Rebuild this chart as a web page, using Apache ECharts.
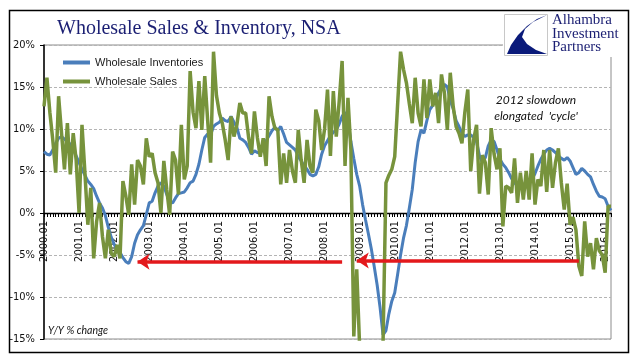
<!DOCTYPE html>
<html><head><meta charset="utf-8">
<script src="https://cdn.jsdelivr.net/npm/echarts@6/dist/echarts.min.js"></script>
<style>html,body{margin:0;padding:0;background:#fff}#c{width:641px;height:358px}</style>
</head><body><div id="c"></div>
<script>
// Y/Y % change, monthly 2000.01 - 2016.03
const inventories = [
7.3,7.0,6.9,7.5,8.3,8.9,9.1,8.8,8.5,8.2,7.6,6.8,
6.0,5.2,4.5,3.8,3.4,2.9,2.0,1.2,0.6,-0.3,-1.7,-2.9,
-3.7,-4.4,-4.7,-5.3,-5.8,-6.0,-5.2,-3.6,-2.6,-2.0,-1.5,-0.2,
1.2,1.4,2.4,3.2,3.6,3.2,2.2,1.3,1.2,1.8,2.3,2.4,
2.5,3.0,3.6,3.8,4.6,5.8,7.5,9.0,9.4,9.3,10.3,10.6,
10.8,11.3,11.0,10.9,11.5,10.8,10.2,8.9,8.7,8.4,7.8,7.0,
7.4,7.2,7.1,7.8,8.6,9.2,9.8,10.2,9.8,10.3,9.4,8.4,
8.1,7.8,7.5,6.7,6.2,5.6,5.2,4.6,4.4,4.6,5.5,7.0,
8.0,8.6,9.2,9.6,9.9,10.6,11.5,12.0,11.0,8.5,6.5,4.6,
3.2,1.0,-0.8,-2.5,-4.3,-6.4,-8.6,-11.3,-14.5,-14.0,-12.0,-10.5,
-9.5,-7.3,-5.0,-3.0,-1.5,0.6,2.8,6.0,8.5,9.9,9.5,11.0,
12.3,12.8,13.6,14.3,14.9,15.3,15.0,13.4,12.4,11.0,10.3,9.5,
9.1,9.3,9.3,9.0,8.5,6.8,6.0,6.6,8.0,8.7,8.5,7.5,
6.4,5.8,5.4,4.8,4.1,3.6,3.2,3.6,3.2,3.8,3.6,4.0,
4.7,5.6,6.4,7.0,7.5,7.7,7.5,7.2,6.8,6.5,6.3,6.6,
6.2,5.4,4.6,4.8,5.3,5.0,4.6,4.3,3.4,2.6,2.0,1.9,
1.7,0.8,0.3
];
const sales = [
12.7,16.1,12.0,8.7,4.8,13.9,9.5,5.2,10.7,4.6,9.5,6.3,
0.0,10.5,4.8,-1.4,3.0,-5.4,-1.0,1.2,-2.8,-5.4,-2.0,-4.8,
-5.2,-3.8,-5.4,3.8,2.0,-0.2,5.8,1.0,6.3,5.6,3.4,8.9,
6.7,7.1,4.8,3.6,0.0,6.2,2.8,-0.2,7.3,6.3,2.2,10.5,
4.0,5.6,16.9,12.0,10.1,15.7,9.9,16.3,11.0,6.0,19.2,14.0,
11.9,10.7,8.7,6.3,11.5,9.1,10.5,13.1,11.9,11.9,9.0,7.1,
12.1,9.0,6.7,8.9,5.6,13.9,11.5,10.1,9.9,3.4,7.1,3.6,
7.5,5.0,3.6,9.9,6.3,3.6,8.7,5.6,4.8,12.3,11.0,7.5,
10.0,14.7,6.8,14.5,9.1,13.3,18.1,5.6,13.7,7.5,-14.7,-6.7,
-16.0,-19.0,-20.0,-21.0,-20.0,-19.0,-18.0,-17.0,-15.5,3.6,4.5,5.2,
6.7,13.0,19.2,17.1,15.5,13.0,10.7,16.1,11.9,10.3,15.9,11.3,
15.9,12.7,14.3,10.7,16.5,14.3,9.9,16.7,12.7,10.3,9.5,8.3,
12.0,14.7,5.0,8.7,10.5,2.3,6.9,6.0,2.2,10.1,7.0,5.2,
7.7,-1.6,3.2,3.0,2.4,6.5,1.2,4.8,1.6,5.0,1.6,7.1,
1.0,4.0,3.2,7.5,2.5,7.5,3.0,6.0,7.7,3.6,0.4,3.5,
-1.4,-0.5,-2.0,-6.3,-7.5,-1.0,-5.2,-3.6,-6.7,-3.0,-4.5,-5.0,
-7.1,0.8,0.8
];
const categories = [];
for (let y = 2000; y <= 2016; y++) {
  for (let m = 1; m <= 12; m++) {
    if (categories.length < sales.length) categories.push(y + '.' + String(m).padStart(2, '0'));
  }
}
const yMin = -15, yMax = 20, yStep = 5;
const seriesNames = ['Wholesale Inventories', 'Wholesale Sales'];
// annotation arrows: [from category, to category, value]
const arrows = [
  ['2008.07', '2002.09', -5.8],
  ['2015.04', '2008.12', -5.65]
];

const gridTop = 45, gridBottom = 19, H = 358;
const gridHeight = H - gridTop - gridBottom;
// place the category axis on the 0% line
const zeroOffset = -(0 - yMin) / (yMax - yMin) * gridHeight;

const navy = '#1b1f73';
const narrow = '"Liberation Sans Narrow","DejaVu Sans Condensed","Liberation Sans",sans-serif';
const chart = echarts.init(document.getElementById('c'), null, {renderer: 'canvas'});
chart.setOption({
  animation: false,
  backgroundColor: '#fff',
  grid: {left: 44, right: 30, top: gridTop, bottom: gridBottom, show: true, borderColor: '#8c8c8c', borderWidth: 1, backgroundColor: 'transparent'},
  legend: {
    orient: 'vertical', left: 58, top: 52, icon: 'rect', itemWidth: 27, itemHeight: 4, itemGap: 8,
    data: seriesNames,
    textStyle: {fontFamily: '"Liberation Sans",Arial,sans-serif', fontSize: 11, color: '#1a1a1a'}
  },
  xAxis: {
    type: 'category', data: categories, boundaryGap: false, position: 'bottom', offset: zeroOffset,
    axisLine: {onZero: false, lineStyle: {color: '#000', width: 1.3}},
    axisTick: {show: true, interval: 0, length: 4, lineStyle: {color: '#000', width: 1}},
    axisLabel: {interval: 11, rotate: 90, margin: 8, fontSize: 11, color: '#111', fontFamily: narrow},
    splitLine: {show: false}
  },
  yAxis: {
    type: 'value', min: yMin, max: yMax, interval: yStep,
    axisLine: {show: true, lineStyle: {color: '#000', width: 1.5}},
    axisTick: {show: true, length: 4, lineStyle: {color: '#000'}},
    axisLabel: {formatter: '{value}%', margin: 9, fontSize: 11, color: '#111', fontFamily: narrow},
    splitLine: {show: true, lineStyle: {color: '#b4b4b4', width: 1, type: [3, 2]}}
  },
  series: [
    {
      name: seriesNames[0], type: 'line', data: inventories, showSymbol: false, symbol: 'none',
      lineStyle: {color: '#4a7ebb', width: 3}, itemStyle: {color: '#4a7ebb'}, z: 3
    },
    {
      name: seriesNames[1], type: 'line', data: sales, showSymbol: false, symbol: 'none',
      lineStyle: {color: '#77933c', width: 3.5}, itemStyle: {color: '#77933c'}, z: 4,
      markLine: {
        silent: true, symbol: ['none', 'arrow'], symbolSize: 12,
        label: {show: false},
        lineStyle: {color: '#e3191c', width: 3.5, type: 'solid'},
        emphasis: {disabled: true},
        data: arrows.map(a => [{coord: [a[0], a[2]]}, {coord: [a[1], a[2]]}])
      }
    }
  ],
  graphic: [
    {type: 'rect', z: 100, shape: {x: 9.5, y: 10.5, width: 619, height: 342}, style: {fill: 'none', stroke: '#000', lineWidth: 1.5}},
    {type: 'text', z: 100, style: {x: 57, y: 29, text: 'Wholesale Sales & Inventory, NSA', fill: navy, font: '20px "Liberation Serif",serif', verticalAlign: 'middle'}},
    {type: 'rect', z: 100, shape: {x: 503, y: 12, width: 124, height: 45}, style: {fill: '#fff'}},
    {type: 'rect', z: 101, shape: {x: 504.5, y: 14.5, width: 43, height: 41}, style: {fill: '#fff', stroke: '#c8c8c8', lineWidth: 1}},
    {type: 'polygon', z: 102, shape: {points: [[547,15],[537,19],[527,26],[518,35],[511,45],[507,54],[547,54],[536,50],[527,44],[522,37],[525,29],[533,22]]}, style: {fill: '#0a1a7a'}},
    {type: 'text', z: 102, style: {x: 552, y: 34, text: 'Alhambra\nInvestment\nPartners', fill: navy, font: '15px "Liberation Serif",serif', lineHeight: 13.5, verticalAlign: 'middle'}},
    {type: 'text', z: 100, style: {x: 536, y: 108, text: '2012 slowdown\nelongated  \'cycle\'', fill: '#111', font: 'italic 12px Lato,"Liberation Sans",sans-serif', lineHeight: 16, align: 'center', verticalAlign: 'middle'}},
    {type: 'text', z: 100, style: {x: 48, y: 331, text: 'Y/Y % change', fill: '#111', font: 'italic 10.5px Lato,"Liberation Sans",sans-serif', verticalAlign: 'middle'}}
  ]
});
</script>
</body></html>
